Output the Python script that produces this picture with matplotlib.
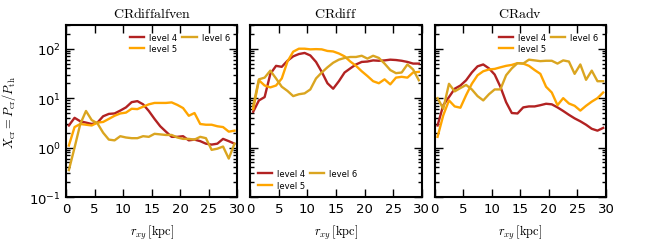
import numpy as np
import matplotlib
matplotlib.use("Agg")
import matplotlib.pyplot as plt

r = np.arange(0.5, 30, 1.0)

panels = ["CRdiffalfven", "CRdiff", "CRadv"]
levels = ["level 4", "level 5", "level 6"]
colors = ["#b22222", "#ffa500", "#daa520"]

# CRdiffalfven
alfven_l4 = [2.8, 4.0, 3.4, 3.2, 3.0, 3.2, 4.3, 4.8, 4.9, 5.6, 6.5, 8.3, 8.7, 7.5, 5.5,
             3.8, 2.7, 2.1, 1.65, 1.65, 1.7, 1.4, 1.45, 1.35, 1.2, 1.15, 1.2, 1.5, 1.35, 1.2]
alfven_l5 = [1.1, 2.6, 3.0, 2.9, 2.8, 3.2, 3.3, 3.8, 4.4, 4.9, 5.1, 6.1, 6.0, 6.7, 7.5,
             8.0, 8.0, 8.0, 8.2, 7.3, 6.3, 4.4, 5.0, 3.0, 2.9, 2.9, 2.7, 2.6, 2.1, 2.2]
alfven_l6 = [0.35, 1.0, 3.0, 5.5, 3.6, 3.1, 2.0, 1.45, 1.4, 1.7, 1.6, 1.55, 1.55, 1.7, 1.65,
             1.9, 1.85, 1.8, 1.8, 1.6, 1.5, 1.5, 1.45, 1.65, 1.55, 0.9, 0.95, 1.05, 0.6, 1.2]

# CRdiff
diff_l4 = [5.3, 9, 10.5, 31, 45, 43, 57, 70, 78, 82, 73, 54, 34, 20, 15.5,
           22, 33, 40, 48, 54, 55, 58, 57, 58, 60, 59, 57, 54, 50, 50]
diff_l5 = [6, 23, 18, 16.5, 18, 25, 55, 87, 100, 100, 97, 98, 97, 90, 88,
           80, 70, 55, 45, 35, 28, 22, 20, 24, 19, 26, 27, 26, 33, 34]
diff_l6 = [7, 24, 26, 36, 25, 17, 14, 11, 12, 12.5, 15, 25, 33, 42, 52,
           60, 65, 68, 68, 72, 63, 72, 65, 50, 37, 32, 33, 48, 38, 23]

# CRadv
adv_l4 = [2.8, 7.2, 10.5, 15.5, 18, 23, 33, 44, 48, 40, 30, 17, 8.3, 5.0, 4.9,
          6.5, 6.8, 6.8, 7.2, 7.7, 7.5, 6.5, 5.5, 4.6, 3.9, 3.4, 2.9, 2.4, 2.2, 2.5]
adv_l5 = [1.65, 4.5, 9, 6.8, 6.4, 11.5, 19.5, 29, 35, 38, 39, 42, 45, 47, 51,
          50, 45, 37, 31, 17, 13, 7.2, 10, 7.8, 7, 5.6, 7, 8.5, 10, 13]
adv_l6 = [10, 6.1, 19.5, 13.7, 16, 18.5, 15, 11, 9, 12, 15, 15, 29, 40, 51,
          50, 60, 58, 56, 57, 57, 50, 58, 55, 31, 48, 23.5, 36, 22, 22]

data = [[alfven_l4, alfven_l5, alfven_l6],
        [diff_l4, diff_l5, diff_l6],
        [adv_l4, adv_l5, adv_l6]]

plt.rcParams["mathtext.fontset"] = "dejavusans"
plt.rcParams["font.size"] = 9.5

fig, axes = plt.subplots(1, 3, figsize=(6.64, 2.51), dpi=100, sharey=True)
fig.subplots_adjust(left=0.0994, right=0.9127, bottom=0.211, top=0.896, wspace=0.076)

for i, ax in enumerate(axes):
    for j in range(3):
        ax.plot(r, data[i][j], color=colors[j], lw=1.7, label=levels[j])
    ax.set_yscale("log")
    ax.set_xlim(0, 30)
    ax.set_ylim(0.1, 300)
    ax.set_xticks([0, 5, 10, 15, 20, 25, 30])
    ax.tick_params(which="both", direction="in", top=True, right=True, width=1,
                   labelsize=9.5)
    ax.tick_params(which="major", length=6)
    ax.tick_params(which="minor", length=3)
    for s in ax.spines.values():
        s.set_linewidth(1.5)
    ax.set_title(r"$\mathrm{%s}$" % panels[i], fontsize=10, math_fontfamily="cm")
    ax.set_xlabel(r"$r_{xy}\,[\mathrm{kpc}]$", fontsize=9, math_fontfamily="cm",
                  labelpad=6)
    loc = "lower left" if i == 1 else "upper right"
    ax.legend(loc=loc, ncol=2, frameon=False, fontsize=6, handlelength=1.7,
              columnspacing=0.6, handletextpad=0.6, labelspacing=0.3)

axes[0].set_ylabel(r"$X_{\rm cr} = P_{\rm cr}/P_{\rm th}$", fontsize=9,
                   math_fontfamily="cm", labelpad=8)
for ax in axes[1:]:
    ax.tick_params(labelleft=False)

fig.savefig("out.png", dpi=100)
